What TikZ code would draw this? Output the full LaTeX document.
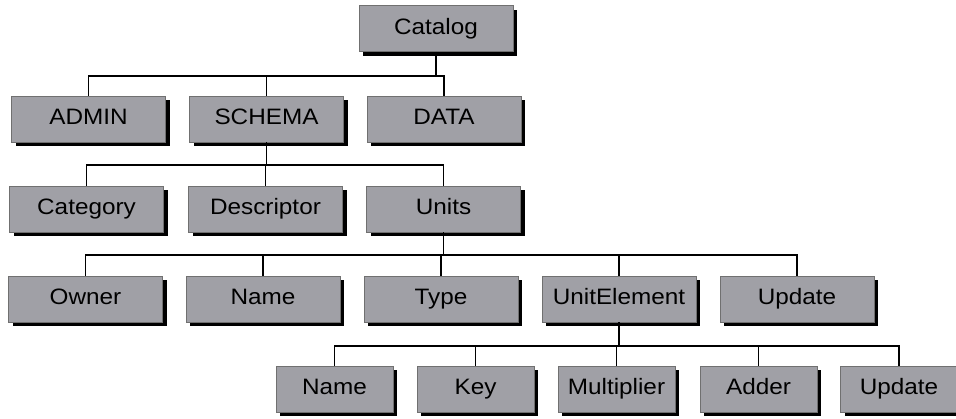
\documentclass[tikz,border=0pt]{standalone}
\usepackage{fontspec}
\setmainfont{Liberation Sans}[FakeStretch=1.09]
\usetikzlibrary{shadows}
\definecolor{boxgray}{RGB}{160,160,166}
\definecolor{edgegray}{RGB}{112,112,112}
\tikzset{
    box/.style={draw=edgegray, line width=0.8pt, fill=boxgray,
        minimum width=154pt, minimum height=46pt, inner sep=0pt,
        text height=0.716em+4pt, text depth=0pt,
        font=\fontsize{22.3}{26}\selectfont,
        drop shadow={shadow xshift=4pt, shadow yshift=-4pt, fill=black, opacity=1}},
    smallbox/.style={box, minimum width=117pt},
    conn/.style={line width=1.3pt}
}
\begin{document}
\begin{tikzpicture}[x=1pt,y=1pt]
    \useasboundingbox (0,0) rectangle (956,-418);

    \node[box] (cat) at (436,-28.5) {Catalog};

    \node[box] (admin) at (88.5,-119) {ADMIN};
    \node[box] (schema) at (266.5,-119) {SCHEMA};
    \node[box] (data) at (444,-119) {DATA};

    \node[box] (category) at (86.5,-209) {Category};
    \node[box] (descr) at (265.5,-209) {Descriptor};
    \node[box] (units) at (443.5,-209) {Units};

    \node[box] (owner) at (85.5,-299) {Owner};
    \node[box] (name) at (263,-299) {Name};
    \node[box] (type) at (441,-299) {Type};
    \node[box] (unitel) at (619,-299) {UnitElement};
    \node[box] (update) at (797,-299) {Update};

    \node[smallbox] (ename) at (334.5,-389) {Name};
    \node[smallbox] (key) at (475.5,-389) {Key};
    \node[smallbox] (mult) at (616.5,-389) {Multiplier};
    \node[smallbox] (adder) at (758.5,-389) {Adder};
    \node[smallbox] (eupdate) at (899,-389) {Update};

    \coordinate (bus1) at (0,-76);
    \coordinate (bus2) at (0,-165);
    \coordinate (bus3) at (0,-255);
    \coordinate (bus4) at (0,-346);

    \draw[conn] (cat.south) -- (cat.south |- bus1);
    \draw[conn] (admin.north) |- (data.north |- bus1) -- (data.north);
    \draw[conn] (schema.north) -- (schema.north |- bus1);

    \draw[conn] (schema.south) -- (schema.south |- bus2);
    \draw[conn] (category.north) |- (units.north |- bus2) -- (units.north);
    \draw[conn] (descr.north) -- (descr.north |- bus2);

    \draw[conn] (units.south) -- (units.south |- bus3);
    \draw[conn] (owner.north) |- (update.north |- bus3) -- (update.north);
    \foreach \n in {name,type,unitel}
        \draw[conn] (\n.north) -- (\n.north |- bus3);

    \draw[conn] (unitel.south) -- (unitel.south |- bus4);
    \draw[conn] (ename.north) |- (eupdate.north |- bus4) -- (eupdate.north);
    \foreach \n in {key,mult,adder}
        \draw[conn] (\n.north) -- (\n.north |- bus4);

\end{tikzpicture}
\end{document}
